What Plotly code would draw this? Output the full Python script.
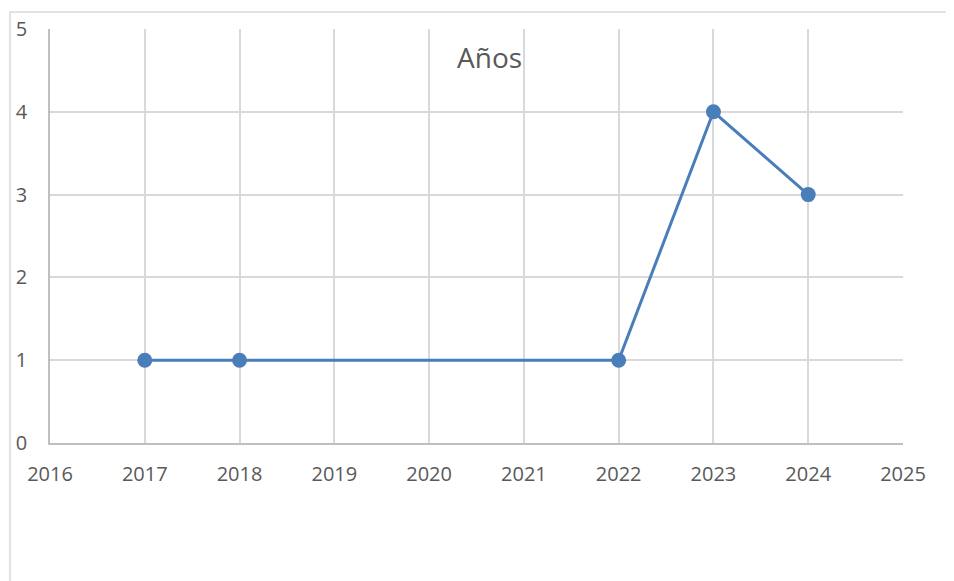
import plotly.graph_objects as go

years = [2017, 2018, 2022, 2023, 2024]
values = [1, 1, 1, 4, 3]
x_ticks = list(range(2016, 2026))
y_ticks = [0, 1, 2, 3, 4, 5]
title_text = "Años"

OFF = 8  # page body margin
W, H = 954 - OFF, 581 - OFF
L, R, T, B = 50 - OFF, 51, 29 - OFF, 138
pw, ph = W - L - R, H - T - B

fig = go.Figure()
fig.add_trace(go.Scatter(
    x=years, y=values, mode="lines+markers",
    line=dict(color="#4A7EBB", width=3),
    marker=dict(color="#4A7EBB", size=15),
    showlegend=False, cliponaxis=False,
))

font_family = "'Open Sans', sans-serif"
fig.update_layout(
    width=W, height=H,
    margin=dict(l=L, r=R, t=T, b=B, autoexpand=False),
    paper_bgcolor="white", plot_bgcolor="white",
    font=dict(family=font_family, color="#595959", size=20),
    xaxis=dict(range=[2016, 2025], tickvals=x_ticks, ticktext=[str(v) for v in x_ticks],
               showgrid=True, gridcolor="#D9D9D9", gridwidth=1.5,
               showline=True, linecolor="#BFBFBF", linewidth=1.5,
               ticks="", zeroline=False, ticklabelstandoff=12,
               automargin=False, fixedrange=True),
    yaxis=dict(range=[0, 5], tickvals=y_ticks,
               showgrid=True, gridcolor="#D9D9D9", gridwidth=1.5,
               showline=True, linecolor="#BFBFBF", linewidth=1.5,
               ticks="", zeroline=False, ticklabelstandoff=17,
               automargin=False, fixedrange=True),
    annotations=[dict(text=title_text, x=(490 - 50) / pw, y=1 - (57 - 29) / ph,
                      xref="paper", yref="paper", showarrow=False,
                      xanchor="center", yanchor="middle",
                      font=dict(size=28, color="#595959", family=font_family))],
    shapes=[dict(type="rect", xref="paper", yref="paper",
                 x0=(10 - 50) / pw, y0=1 - (H + 40 - T) / ph,
                 x1=(W + 40 - L) / pw, y1=1 + (29 - 12) / ph,
                 line=dict(color="#D9D9D9", width=1.5), layer="below")],
)

fig.write_html("out.html", config={"displayModeBar": False})
